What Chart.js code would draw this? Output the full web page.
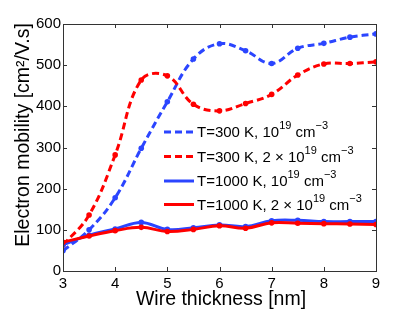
<!DOCTYPE html>
<html>
<head>
<meta charset="utf-8">
<script src="https://cdn.jsdelivr.net/npm/chart.js@4/dist/chart.umd.min.js"></script>
<style>
  html, body { margin: 0; padding: 0; background: #fff; }
  canvas { display: block; }
</style>
</head>
<body>
<canvas id="mobilityChart" width="415" height="312"></canvas>
<script>
// wire thickness [nm]
const thickness = [3, 3.5, 4, 4.5, 5, 5.5, 6, 6.5, 7, 7.5, 8, 8.5, 9];

// electron mobility [cm^2/V.s]
const mob300Low = [49, 100, 178, 298, 411, 515, 552, 535, 504, 541, 553, 568, 576];
const mob300High = [63, 136, 282, 464, 474, 405, 389, 407, 429, 476, 503, 504, 508];
const mob1000Low = [64, 87, 102, 118, 101, 105, 112, 108, 122, 123, 120, 120, 120];
const mob1000High = [70, 85, 98, 106, 96, 101, 110, 104, 117, 116, 115, 114, 113];

const xTicks = [3, 4, 5, 6, 7, 8, 9];
const yTicks = [0, 100, 200, 300, 400, 500, 600];

const legendLabels = [
  'T=300 K, 10^{19} cm^{\u22123}',
  'T=300 K, 2 \u00d7 10^{19} cm^{\u22123}',
  'T=1000 K, 10^{19} cm^{\u22123}',
  'T=1000 K, 2 \u00d7 10^{19} cm^{\u22123}'
];

const xTitle = 'Wire thickness [nm]';
const yTitle = 'Electron mobility [cm\u00b2/V.s]';

const BLUE = '#2b45ff';
const RED = '#ff0000';
const FONT = '"Liberation Sans", Arial, sans-serif';

function series(values, color, dashed, order) {
  return {
    data: thickness.map((t, i) => ({ x: t, y: values[i] })),
    borderColor: color,
    backgroundColor: color,
    borderWidth: 3,
    borderDash: dashed ? [7, 4] : [],
    pointRadius: 2.8,
    pointBorderWidth: 0,
    tension: 0.4,
    order: order
  };
}

// draws the box, inward ticks, axis titles and the legend
const framePlugin = {
  id: 'frame',
  afterDraw(chart) {
    const ctx = chart.ctx;
    const a = chart.chartArea;
    const xs = chart.scales.x, ys = chart.scales.y;
    ctx.save();
    ctx.strokeStyle = '#333';
    ctx.lineWidth = 1;
    ctx.strokeRect(a.left + 0.5, a.top + 0.5, a.right - a.left, a.bottom - a.top);
    ctx.beginPath();
    xTicks.forEach(v => {
      const px = Math.round(xs.getPixelForValue(v)) + 0.5;
      ctx.moveTo(px, a.bottom); ctx.lineTo(px, a.bottom - 4);
      ctx.moveTo(px, a.top); ctx.lineTo(px, a.top + 4);
    });
    yTicks.forEach(v => {
      const py = Math.round(ys.getPixelForValue(v)) + 0.5;
      ctx.moveTo(a.left, py); ctx.lineTo(a.left + 4, py);
      ctx.moveTo(a.right, py); ctx.lineTo(a.right - 4, py);
    });
    ctx.stroke();

    // axis titles
    ctx.fillStyle = '#000';
    ctx.font = '19.5px ' + FONT;
    ctx.textAlign = 'center';
    ctx.textBaseline = 'middle';
    ctx.fillText(xTitle, 221, 300);
    ctx.save();
    ctx.translate(24, 135);
    ctx.rotate(-Math.PI / 2);
    ctx.fillText(yTitle, 0, 0);
    ctx.restore();

    // legend
    const rows = [132, 156.5, 181, 204.5];
    chart.data.datasets.forEach((ds, i) => {
      const y = rows[i];
      ctx.strokeStyle = ds.borderColor;
      ctx.lineWidth = 3;
      ctx.setLineDash(ds.borderDash);
      ctx.beginPath();
      ctx.moveTo(164, y); ctx.lineTo(194, y);
      ctx.stroke();
      ctx.setLineDash([]);
      let x = 197;
      ctx.textAlign = 'left';
      ctx.textBaseline = 'middle';
      ctx.fillStyle = '#000';
      legendLabels[i].split(/(\^\{[^}]*\})/).forEach(part => {
        if (!part) return;
        if (part.startsWith('^{')) {
          const s = part.slice(2, -1);
          ctx.font = '11px ' + FONT;
          ctx.fillText(s, x, y - 6);
          x += ctx.measureText(s).width;
        } else {
          ctx.font = '15px ' + FONT;
          ctx.fillText(part, x, y + 1);
          x += ctx.measureText(part).width;
        }
      });
    });
    ctx.restore();
  }
};

new Chart(document.getElementById('mobilityChart').getContext('2d'), {
  type: 'line',
  data: {
    datasets: [
      series(mob300Low, BLUE, true, 4),
      series(mob300High, RED, true, 3),
      series(mob1000Low, BLUE, false, 2),
      series(mob1000High, RED, false, 1)
    ]
  },
  options: {
    responsive: false,
    animation: false,
    devicePixelRatio: 1,
    layout: { padding: { top: 24, right: 39, left: 0, bottom: 0 } },
    plugins: {
      legend: { display: false },
      tooltip: { enabled: false }
    },
    scales: {
      x: {
        type: 'linear',
        min: 3,
        max: 9,
        afterFit: s => { s.height = 41; },
        afterBuildTicks: s => { s.ticks = xTicks.map(v => ({ value: v })); },
        grid: { display: true, drawOnChartArea: false, drawTicks: false },
        border: { display: false },
        ticks: { color: '#000', padding: 4, font: { size: 15, family: FONT } }
      },
      y: {
        min: 0,
        max: 600,
        afterFit: s => { s.width = 63; },
        afterBuildTicks: s => { s.ticks = yTicks.map(v => ({ value: v })); },
        grid: { display: true, drawOnChartArea: false, drawTicks: false },
        border: { display: false },
        ticks: { color: '#000', padding: 2, font: { size: 15, family: FONT } }
      }
    }
  },
  plugins: [framePlugin]
});
</script>
</body>
</html>
